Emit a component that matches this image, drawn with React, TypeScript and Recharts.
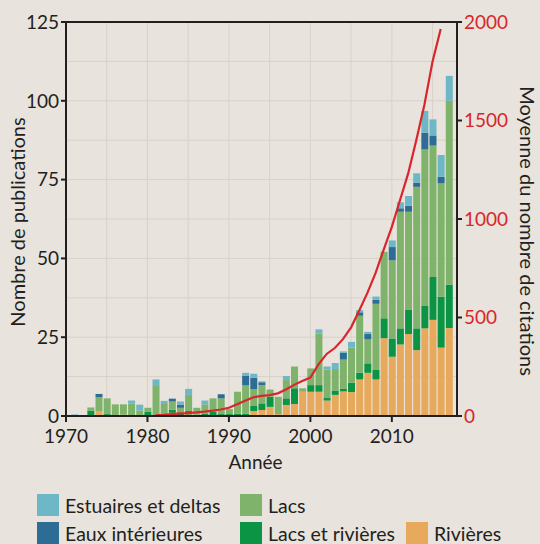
import React from 'react'
import {
  ComposedChart, Bar, Line, XAxis, YAxis, CartesianGrid, ReferenceLine,
} from 'recharts'

const YEARS = [
  1970, 1971, 1972, 1973, 1974, 1975, 1976, 1977, 1978, 1979,
  1980, 1981, 1982, 1983, 1984, 1985, 1986, 1987, 1988, 1989,
  1990, 1991, 1992, 1993, 1994, 1995, 1996, 1997, 1998, 1999,
  2000, 2001, 2002, 2003, 2004, 2005, 2006, 2007, 2008, 2009,
  2010, 2011, 2012, 2013, 2014, 2015, 2016, 2017,
]

// Rivières
const RIVIERES = [
  0, 0, 0, 0, 1.5, 0, 0, 0.4, 0, 0,
  0, 0, 0, 1, 0, 0.5, 0, 0, 0.3, 0,
  0, 0, 0, 1.6, 1.9, 2.9, 0.6, 3.5, 3.8, 7.7,
  7.7, 7.7, 4.9, 6.7, 7.8, 7.6, 11.6, 13.7, 11.6, 24.7,
  18.8, 22.7, 26, 20.9, 27.8, 30.5, 21.7, 27.9,
]

// Lacs et rivières
const LACS_RIVIERES = [
  0, 0, 0, 1.7, 0, 0.6, 0, 0, 0, 0,
  1.3, 0, 0, 1, 1, 1.1, 0.4, 0.8, 1.1, 0.6,
  0.6, 0.7, 0.7, 1.6, 2.1, 3.2, 0, 2.1, 5, 0,
  2.1, 2.1, 0.8, 1.4, 0.8, 3, 2.1, 3, 3, 6.3,
  5.8, 5.1, 7.8, 6.9, 7.1, 13.6, 16.1, 13.8,
]

// Lacs
const LACS = [
  0, 0, 0, 1, 4.5, 5, 3.7, 3.3, 3.9, 1.8,
  1.3, 9.8, 3.8, 2.6, 1.6, 5.1, 2.2, 2.9, 4.2, 5,
  1.6, 7, 9, 5.3, 5.8, 2.3, 5.5, 5.8, 6.9, 1.1,
  5.3, 16.4, 9, 6.8, 9.3, 11.1, 18.1, 7.6, 21, 21.1,
  24.8, 37, 31, 44.9, 49.7, 41.7, 36, 58.3,
]

// Eaux intérieures
const EAUX = [
  0, 0, 0, 0, 1, 0, 0, 0, 0, 0,
  0, 0, 0, 0.9, 1, 0, 0, 0, 0, 1.3,
  0, 0, 3, 3.6, 0.9, 0, 0, 0, 0, 0,
  0, 0, 0, 0, 2.1, 0, 1.1, 1.7, 1.3, 0,
  4.2, 1.1, 1.9, 1.3, 5.3, 3.2, 2.1, 0,
]

// Estuaires et deltas
const ESTUAIRES = [
  0, 0.5, 0, 0, 0, 0, 0, 0, 1, 1.8,
  0, 1.8, 1, 0, 1, 1.9, 0, 1.2, 0, 0,
  0, 0, 1, 1.3, 0.3, 0, 0, 1.3, 0, 0,
  0, 1.3, 1, 1.9, 0.5, 1.8, 0.7, 0.7, 1, 0,
  2.1, 1.9, 3.1, 3, 6.9, 5.1, 6.9, 7.9,
]

// Moyenne du nombre de citations
const CITATIONS: (number | null)[] = [
  null, null, null, null, null, null, null, null, null, null,
  null, 3, 6, 10, 13, 15, 18, 22, 27, 33,
  42, 60, 78, 95, 102, 106, 115, 135, 158, 178,
  195, 262, 315, 345, 390, 450, 535, 625, 725, 845,
  960, 1095, 1230, 1400, 1580, 1800, 1965, null,
]

const X_TICKS = [1970, 1980, 1990, 2000, 2010]
const GRID_X = [1975, 1980, 1985, 1990, 1995, 2000, 2005, 2010, 2015]
const LEFT_TICKS = [0, 25, 50, 75, 100, 125]
const GRID_Y = [12.5, 25, 37.5, 50, 62.5, 75, 87.5, 100, 112.5]
const RIGHT_TICKS = [0, 500, 1000, 1500, 2000]

const COLORS = {
  est: '#6db7c6',
  eaux: '#2d6d95',
  lacs: '#7fb36b',
  lr: '#0b9444',
  riv: '#e7a95c',
  line: '#d8262c',
  ink: '#231f20',
  bg: '#e8e3dc',
  grid: '#d8d2c8',
}

const data = YEARS.map((year, i) => ({
  year,
  riv: RIVIERES[i],
  lr: LACS_RIVIERES[i],
  lacs: LACS[i],
  eaux: EAUX[i],
  est: ESTUAIRES[i],
  cit: CITATIONS[i],
}))

const LEGEND = [
  [
    { label: 'Estuaires et deltas', color: COLORS.est, left: 37 },
    { label: 'Lacs', color: COLORS.lacs, left: 240 },
  ],
  [
    { label: 'Eaux intérieures', color: COLORS.eaux, left: 37 },
    { label: 'Lacs et rivières', color: COLORS.lr, left: 240 },
    { label: 'Rivières', color: COLORS.riv, left: 406 },
  ],
]

const FONT = 'Lato, "Noto Sans", sans-serif'

// rotated axis title, placed from the axis viewBox
function sideTitle(text: string, dx: number, dy: number, angle: number) {
  return (props: any) => {
    const vb = props.viewBox || {}
    const x = vb.x + dx
    const y = vb.y + vb.height / 2 + dy
    return (
      <text
        transform={`translate(${x},${y}) rotate(${angle})`}
        textAnchor="middle"
        dominantBaseline="central"
        fill={COLORS.ink}
        fontSize={20}
      >
        {text}
      </text>
    )
  }
}

export default function App() {
  const tick = { fill: COLORS.ink, fontSize: 19 }
  return (
    <div style={{
      position: 'absolute', left: 0, top: 0, width: 540, height: 544,
      background: COLORS.bg, fontFamily: FONT, overflow: 'hidden',
    }}>
      <ComposedChart
        width={540}
        height={480}
        data={data}
        margin={{ top: 22, right: 0, left: 0, bottom: 0 }}
      >
        <CartesianGrid
          yAxisId="left"
          stroke={COLORS.grid}
          horizontalValues={GRID_Y}
          verticalValues={GRID_X}
        />
        <XAxis
          dataKey="year"
          type="number"
          domain={[1970, 2018]}
          ticks={X_TICKS}
          height={64}
          tick={tick}
          tickSize={6}
          tickMargin={8}
          axisLine={{ stroke: COLORS.ink, strokeWidth: 2 }}
          tickLine={{ stroke: COLORS.ink, strokeWidth: 2 }}
          label={{ value: 'Année', position: 'insideBottom', offset: 11, dx: -6, fill: COLORS.ink, fontSize: 19 }}
        />
        <YAxis
          yAxisId="left"
          domain={[0, 125]}
          ticks={LEFT_TICKS}
          width={66}
          tick={tick}
          tickSize={5}
          axisLine={{ stroke: COLORS.ink, strokeWidth: 2 }}
          tickLine={{ stroke: COLORS.ink, strokeWidth: 2 }}
          label={sideTitle('Nombre de publications', 17, 3, -90)}
        />
        <YAxis
          yAxisId="right"
          orientation="right"
          domain={[0, 2000]}
          ticks={RIGHT_TICKS}
          width={83}
          tick={{ fill: COLORS.line, fontSize: 19 }}
          tickSize={5}
          axisLine={{ stroke: COLORS.ink, strokeWidth: 2 }}
          tickLine={{ stroke: COLORS.ink, strokeWidth: 2 }}
          label={sideTitle('Moyenne du nombre de citations', 71, 12, 90)}
        />
        <ReferenceLine yAxisId="left" y={125} stroke={COLORS.ink} strokeWidth={2} />
        <Bar yAxisId="left" dataKey="riv" stackId="a" fill={COLORS.riv} barSize={7} isAnimationActive={false} />
        <Bar yAxisId="left" dataKey="lr" stackId="a" fill={COLORS.lr} barSize={7} isAnimationActive={false} />
        <Bar yAxisId="left" dataKey="lacs" stackId="a" fill={COLORS.lacs} barSize={7} isAnimationActive={false} />
        <Bar yAxisId="left" dataKey="eaux" stackId="a" fill={COLORS.eaux} barSize={7} isAnimationActive={false} />
        <Bar yAxisId="left" dataKey="est" stackId="a" fill={COLORS.est} barSize={7} isAnimationActive={false} />
        <Line
          yAxisId="right"
          dataKey="cit"
          type="linear"
          stroke={COLORS.line}
          strokeWidth={2.2}
          dot={false}
          isAnimationActive={false}
        />
      </ComposedChart>
      {LEGEND.map((row, r) => row.map(item => (
        <div key={item.label} style={{
          position: 'absolute', left: item.left, top: 494 + r * 28,
          display: 'flex', alignItems: 'center', height: 22,
        }}>
          <div style={{ width: 22, height: 22, background: item.color, marginRight: 6 }} />
          <span style={{ fontSize: 19.5, color: COLORS.ink, whiteSpace: 'nowrap' }}>{item.label}</span>
        </div>
      )))}
    </div>
  )
}
